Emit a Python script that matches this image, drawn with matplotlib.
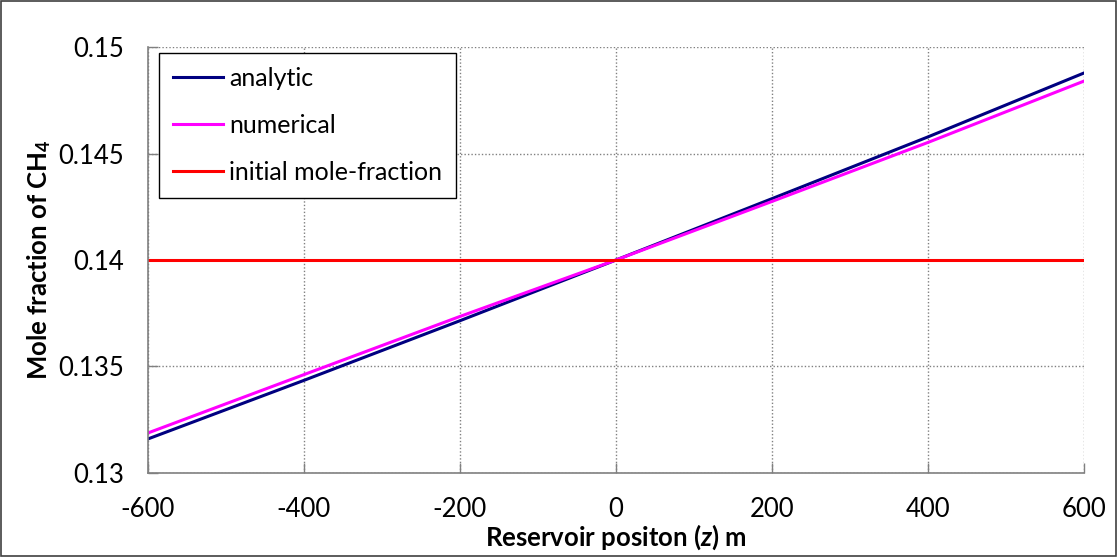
import matplotlib
matplotlib.use("Agg")
import matplotlib.pyplot as plt
from matplotlib.patches import Rectangle

# Data
z = [-600, -400, -200, 0, 200, 400, 600]
analytic = [0.1316, 0.13435, 0.13715, 0.1400, 0.14288, 0.14578, 0.14878]
numerical = [0.13188, 0.13462, 0.13735, 0.1400, 0.14275, 0.14552, 0.14840]
initial = [0.14, 0.14, 0.14, 0.14, 0.14, 0.14, 0.14]
xticks = [-600, -400, -200, 0, 200, 400, 600]
yticks = [0.13, 0.135, 0.14, 0.145, 0.15]
ytick_labels = ["0.13", "0.135", "0.14", "0.145", "0.15"]

plt.rcParams['font.family'] = ['Lato', 'DejaVu Sans']
plt.rcParams['axes.unicode_minus'] = False
plt.rcParams['mathtext.fontset'] = 'custom'
plt.rcParams['mathtext.rm'] = 'Lato'
plt.rcParams['mathtext.bf'] = 'Lato:bold'
plt.rcParams['mathtext.it'] = 'Lato:italic'
plt.rcParams['mathtext.bfit'] = 'Lato:italic:bold'

FS = 18.5

fig = plt.figure(figsize=(11.18, 5.57), dpi=100)
ax = fig.add_axes([148/1118, 1-473/557, (1084-148)/1118, (473-47)/557])

ax.plot(z, analytic, color='#000080', lw=2.2, label='analytic')
ax.plot(z, numerical, color='#FF00FF', lw=2.2, label='numerical')
ax.plot(z, initial, color='#FF0000', lw=2.2, label='initial mole-fraction')

ax.set_xlim(-600, 600)
ax.set_ylim(0.13, 0.15)
ax.set_xticks(xticks)
ax.set_xticklabels([str(v) for v in xticks])
ax.set_yticks(yticks)
ax.set_yticklabels(ytick_labels)
ax.tick_params(direction='in', length=7, width=1, color='#808080', labelsize=FS)
ax.tick_params(axis='y', pad=17)
ax.tick_params(axis='x', pad=17)
ax.grid(True, color='#808080', linestyle=(0, (1, 1.5)), lw=1)

for s in ['top', 'right']:
    ax.spines[s].set_visible(False)
for s in ['left', 'bottom']:
    ax.spines[s].set_color('#808080')
    ax.spines[s].set_linewidth(1.2)

ax.set_xlabel(r'Reservoir positon ($\mathbfit{z}$) m', fontsize=FS, fontweight='bold', labelpad=1)
ax.set_ylabel(r'Mole fraction of CH$_\mathbf{4}$', fontsize=FS, fontweight='bold', labelpad=4)

leg = ax.legend(loc='upper left', bbox_to_anchor=((159-148)/936, (473-53)/426), fontsize=18,
                frameon=True, fancybox=False, edgecolor='black', framealpha=1,
                handlelength=2.0, handletextpad=0.25, labelspacing=0.97, borderpad=0.55,
                borderaxespad=0)
leg.get_frame().set_linewidth(1.0)

fig.patches.append(Rectangle((0.0005, 0.001), 0.998, 0.997, transform=fig.transFigure,
                             fill=False, edgecolor='#404040', lw=1.2))

fig.savefig('out.png', dpi=100)
